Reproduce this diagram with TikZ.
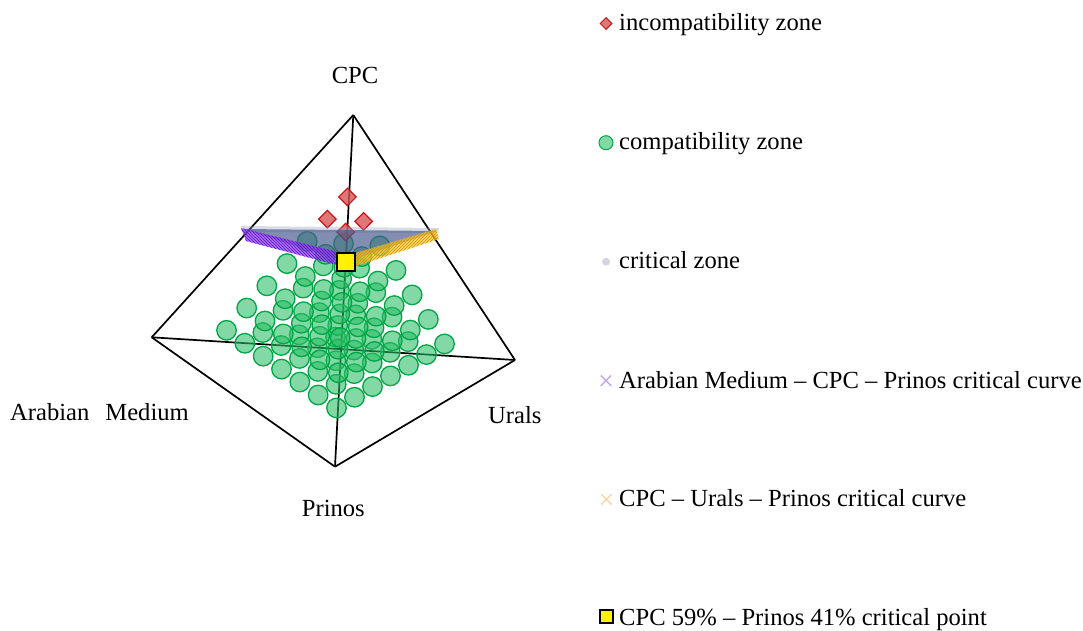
\documentclass[tikz,border=0pt]{standalone}
\usepackage{fontspec}
\setmainfont{Liberation Serif}
\usetikzlibrary{patterns,shapes.geometric}
\definecolor{grfill}{RGB}{40,190,100}
\definecolor{grdraw}{RGB}{0,165,70}
\definecolor{rdfill}{RGB}{215,85,85}
\definecolor{rddraw}{RGB}{200,20,30}
\definecolor{critblue}{RGB}{70,88,140}
\definecolor{critdot}{RGB}{210,214,226}
\definecolor{purp}{RGB}{145,60,235}
\definecolor{purpdark}{RGB}{90,20,200}
\definecolor{purplight}{RGB}{195,165,240}
\definecolor{orng}{RGB}{245,200,40}
\definecolor{orngdark}{RGB}{225,140,0}
\definecolor{orlight}{RGB}{250,215,160}
\tikzset{
  edge/.style={line width=1.7pt, line join=round, black},
  comp/.style={circle, minimum size=19.5pt, inner sep=0pt, draw=grdraw, line width=1.3pt, fill=grfill, fill opacity=.58},
  incomp/.style={diamond, aspect=1, minimum width=18pt, minimum height=18pt, inner sep=0pt, draw=rddraw, line width=1.2pt, fill=rdfill, fill opacity=.8},
  critpt/.style={rectangle, minimum size=18pt, inner sep=0pt, draw=black, line width=2pt, fill=yellow},
  lbl/.style={anchor=base west, inner sep=0pt, font=\fontsize{24.6pt}{30pt}\selectfont},
  lblc/.style={anchor=base, inner sep=0pt, font=\fontsize{24.6pt}{30pt}\selectfont},
}
\begin{document}
\begin{tikzpicture}[x=1pt,y=-1pt]
\useasboundingbox (0,0) rectangle (1083,630);
% vertices
\coordinate (A) at (151.7,337.3);
\coordinate (C) at (353.3,115);
\coordinate (P) at (335,466.7);
\coordinate (U) at (515,360);
% edges
\draw[edge] (C) -- (A);
\draw[edge] (C) -- (U);
\draw[edge] (C) -- (P);
\draw[edge] (A) -- (U);
\draw[edge] (A) -- (P);
\draw[edge] (P) -- (U);
% compatibility points
\foreach \c in {1,...,5}{
 \foreach \a in {1,...,8}{
  \foreach \u in {1,...,8}{
   \pgfmathtruncatemacro\p{10-\a-\c-\u}
   \ifnum\p>0
     \pgfmathsetmacro\px{(\a*151.7+\c*353.3+\p*335+\u*515)/10}
     \pgfmathsetmacro\py{(\a*337.3+\c*115+\p*466.7+\u*360)/10}
     \node[comp] (g\a\c\p\u) at (\px,\py) {};
   \fi
}}}
% incompatibility points
\foreach \a/\c/\p/\u in {1/7/1/1, 2/6/1/1, 1/6/1/2, 1/6/2/1}{
  \pgfmathsetmacro\px{(\a*151.7+\c*353.3+\p*335+\u*515)/10}
  \pgfmathsetmacro\py{(\a*337.3+\c*115+\p*466.7+\u*360)/10}
  \node[incomp] (r\a\c\p\u) at (\px,\py) {};
}
% critical zone
\fill[critblue!60, opacity=.35] (241,226) -- (439,228) -- (438,233) -- (242,232) -- cycle;
\fill[critblue, opacity=.68] (243,229) -- (437,231) -- (346,262) -- cycle;
% critical curves
\fill[purp, opacity=.75] (241,228) -- (346,254) -- (341,266) -- (246,241) -- cycle;
\fill[pattern=north west lines, pattern color=purpdark] (241,228) -- (346,254) -- (341,266) -- (246,241) -- cycle;
\fill[orng, opacity=.7] (349,255) -- (436,229) -- (439,239) -- (353,267) -- cycle;
\fill[pattern=north east lines, pattern color=orngdark] (349,255) -- (436,229) -- (439,239) -- (353,267) -- cycle;
% critical point
\node[critpt] (cp) at (346,261.5) {};
% vertex labels
\node[lblc] (lC) at (355,83.3) {CPC};
\node[lbl] (lA) at (10,420) {Arabian\hspace{16pt}Medium};
\node[lbl] (lU) at (488,423.3) {Urals};
\node[lbl] (lP) at (301.7,516.7) {Prinos};
% legend
\node[incomp, minimum width=12pt, minimum height=12pt, line width=1pt] (k1) at (606,23.5) {};
\node[lbl] (t1) at (619,30.5) {incompatibility zone};
\node[comp, minimum size=14pt, line width=1pt] (k2) at (606,142.7) {};
\node[lbl] (t2) at (619,149.3) {compatibility zone};
\node[circle, fill=critdot, minimum size=8pt, inner sep=0pt] (k3) at (606,261.7) {};
\node[lbl] (t3) at (619,268.3) {critical zone};
\node[inner sep=0pt, minimum size=10pt] (k4) at (606,380.7) {};
\draw[purplight, line width=1.4pt] (k4.north west) -- (k4.south east) (k4.north east) -- (k4.south west);
\node[lbl] (t4) at (619,388.3) {Arabian Medium – CPC – Prinos critical curve};
\node[inner sep=0pt, minimum size=10pt] (k5) at (606.5,499.3) {};
\draw[orlight, line width=1.4pt] (k5.north west) -- (k5.south east) (k5.north east) -- (k5.south west);
\node[lbl] (t5) at (619,506.3) {CPC – Urals – Prinos critical curve};
\node[critpt, minimum size=13pt, line width=1.6pt] (k6) at (606.5,616.7) {};
\node[lbl] (t6) at (619,625.7) {CPC 59\% – Prinos 41\% critical point};
\end{tikzpicture}
\end{document}
